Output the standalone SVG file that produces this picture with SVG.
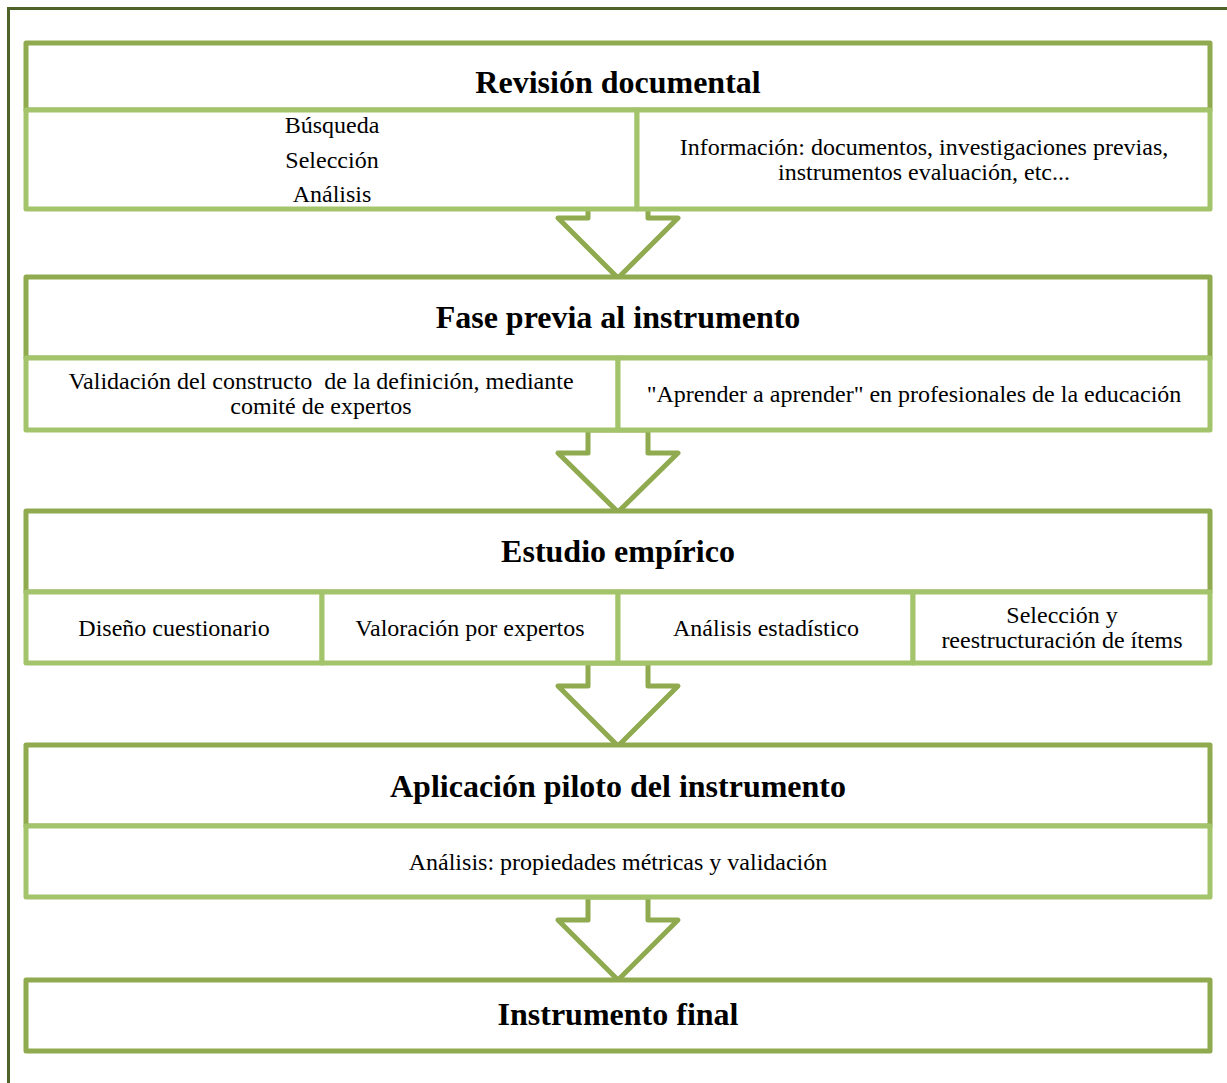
<svg xmlns="http://www.w3.org/2000/svg" width="1227" height="1083" viewBox="0 0 1227 1083">
<style>
.frame{fill:none;stroke:#4F6228;stroke-width:3}
.hd{fill:#fff;stroke:#8FAA4F;stroke-width:5;stroke-linejoin:round}
.cell{fill:#fff;stroke:#A3C46A;stroke-width:5;stroke-linejoin:round}
.arr{fill:#fff;stroke:#8FAA4F;stroke-width:5;stroke-linejoin:round}
.t{font-family:"Liberation Serif","Times New Roman",serif;font-weight:bold;font-size:32px;fill:#000;text-anchor:middle}
.s{font-family:"Liberation Serif","Times New Roman",serif;font-size:24px;fill:#000;text-anchor:middle}
</style>
<rect x="0" y="0" width="1227" height="1083" fill="#fff"/>
<rect class="frame" x="8.5" y="8.5" width="1240" height="1100"/>
<g id="connectors">
<path class="arr" d="M588,200 V218 H558 L618,278 L678,218 H648 V200 Z"/>
<path class="arr" d="M588,430 V453 H558 L618,512 L678,453 H648 V430 Z"/>
<path class="arr" d="M588,663 V686 H558 L618,746 L678,686 H648 V663 Z"/>
<path class="arr" d="M588,897 V920 H558 L618,980 L678,920 H648 V897 Z"/>
</g>
<g id="n1">
<rect class="hd" x="26" y="43" width="1184" height="67"/>
<rect class="cell" x="26" y="110" width="611" height="99"/>
<rect class="cell" x="637" y="110" width="573" height="99"/>
<text class="t" x="618" y="93">Revisión documental</text>
<text class="s" x="332" y="133">Búsqueda</text>
<text class="s" x="332" y="168">Selección</text>
<text class="s" x="332" y="202">Análisis</text>
<text class="s" x="924" y="155">Información: documentos, investigaciones previas,</text>
<text class="s" x="924" y="180">instrumentos evaluación, etc...</text>
</g>
<g id="n2">
<rect class="hd" x="26" y="277" width="1184" height="81"/>
<rect class="cell" x="26" y="358" width="592" height="72"/>
<rect class="cell" x="618" y="358" width="592" height="72"/>
<text class="t" x="618" y="328">Fase previa al instrumento</text>
<text class="s" x="321" y="389" xml:space="preserve">Validación del constructo  de la definición, mediante</text>
<text class="s" x="321" y="414">comité de expertos</text>
<text class="s" x="914" y="402">"Aprender a aprender" en profesionales de la educación</text>
</g>
<g id="n3">
<rect class="hd" x="26" y="511" width="1184" height="81"/>
<rect class="cell" x="26" y="592" width="296" height="71"/>
<rect class="cell" x="322" y="592" width="296" height="71"/>
<rect class="cell" x="618" y="592" width="295" height="71"/>
<rect class="cell" x="913" y="592" width="297" height="71"/>
<text class="t" x="618" y="562">Estudio empírico</text>
<text class="s" x="174" y="636">Diseño cuestionario</text>
<text class="s" x="470" y="636">Valoración por expertos</text>
<text class="s" x="766" y="636">Análisis estadístico</text>
<text class="s" x="1062" y="623">Selección y</text>
<text class="s" x="1062" y="648">reestructuración de ítems</text>
</g>
<g id="n4">
<rect class="hd" x="26" y="745" width="1184" height="81"/>
<rect class="cell" x="26" y="826" width="1184" height="71"/>
<text class="t" x="618" y="797">Aplicación piloto del instrumento</text>
<text class="s" x="618" y="870">Análisis: propiedades métricas y validación</text>
</g>
<g id="n5">
<rect class="hd" x="26" y="980" width="1184" height="71"/>
<text class="t" x="618" y="1025">Instrumento final</text>
</g>
</svg>
